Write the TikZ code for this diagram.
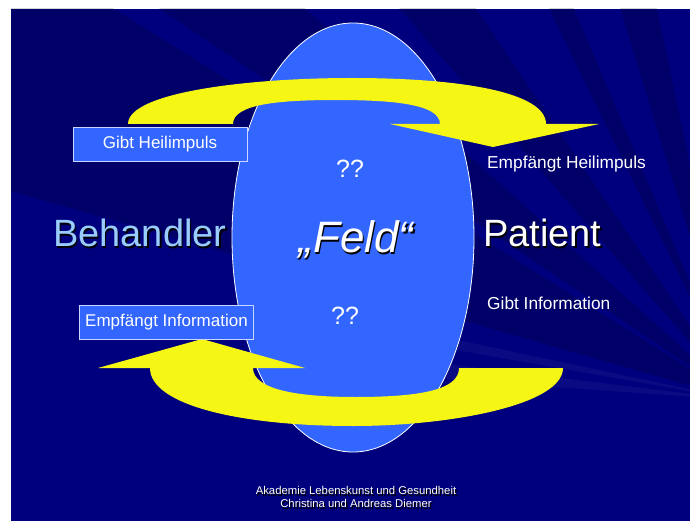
\documentclass[tikz,border=0pt]{standalone}
\usepackage{fontspec}
\setmainfont{Liberation Sans}
\usetikzlibrary{calc,shapes.geometric}
\definecolor{Navy}{HTML}{00007E}
\definecolor{FieldBlue}{HTML}{3366FF}
\definecolor{Sun}{HTML}{F6F614}
\definecolor{SkyText}{HTML}{99CCFF}
\definecolor{BoxLine}{HTML}{C9D6FF}
% text with a small drop shadow down-right
\newcommand{\shadowtext}[1]{\makebox[0pt][l]{\kern1.3pt\raisebox{-1.3pt}{\color{black}#1}}#1}

\begin{document}
\begin{tikzpicture}[
    x=1pt,y=-1pt,
    bigword/.style={font=\fontsize{38}{41}\selectfont,anchor=base west,inner sep=0pt},
    sidetext/.style={font=\fontsize{17.3}{20}\selectfont,text=white,anchor=base west,inner sep=0pt},
    infobox/.style={rectangle,draw=BoxLine,line width=0.8pt,fill=FieldBlue,text=white,
      font=\fontsize{17}{20}\selectfont,minimum width=174pt,minimum height=34pt,inner sep=0pt},
    fieldshape/.style={ellipse,draw=white,line width=0.8pt,fill=FieldBlue,
      minimum width=242pt,minimum height=429pt,inner sep=0pt},
    arrowband/.style={fill=Sun},
    ray/.style={fill=black,opacity=0.17},
    glow/.style={fill=white,opacity=0.04}
  ]
  \useasboundingbox (0,0) rectangle (690,521);
  % slide background with rays
  \fill[white] (0,0) rectangle (690,521);
  \fill[Navy] (11,9) rectangle (690,521);
  \begin{scope}
    \clip (11,9) rectangle (690,521);
    \coordinate (burst) at (740,400);
    \foreach \a/\b in {196/212,214/222,229/236,244/247,253/258}
      \fill[ray] (burst) -- ($(burst)+(\a:1100)$) -- ($(burst)+(\b:1100)$) -- cycle;
    \foreach \a/\b in {184/187,190/192,262/266}
      \fill[glow] (burst) -- ($(burst)+(\a:330)$) -- ($(burst)+(\b:330)$) -- cycle;
  \end{scope}

  % the field in the middle
  \node[fieldshape] (feld) at (353,237.5) {};

  % upper arrow: Behandler -> Patient
  \fill[arrowband] (128,124) .. controls (128,92) and (250,78) .. (352,78)
    .. controls (460,78) and (546,92) .. (546,124)
    -- (599,124) -- (493,147) -- (390,124) -- (440,124)
    .. controls (440,104) and (392,100) .. (336,100)
    .. controls (280,100) and (233,104) .. (233,124) -- cycle;

  % lower arrow: Patient -> Behandler
  \fill[arrowband] (563,368) .. controls (563,405) and (450,426) .. (353,426)
    .. controls (240,426) and (150,405) .. (150,368)
    -- (98,368) -- (202,339) -- (305,368) -- (253,368)
    .. controls (253,390) and (300,397) .. (355,397)
    .. controls (420,397) and (459,390) .. (459,368) -- cycle;

  % boxes on the left
  \node[infobox] (gibt) at (160,144) {Gibt Heilimpuls};
  \node[infobox] (empfang) at (166.5,322.5) {Empfängt Information};

  % texts
  \node[font=\fontsize{25}{28}\selectfont,text=white] (frageoben) at (350,168.5) {??};
  \node[font=\fontsize{25}{28}\selectfont,text=white] (frageunten) at (345,316) {??};
  \node[bigword,text=SkyText] (behandler) at (53,247) {\shadowtext{Behandler}};
  \node[bigword,text=white] (patient) at (483,247) {\shadowtext{Patient}};
  \node[bigword,text=white,anchor=base,font=\fontsize{44}{48}\selectfont\itshape] (feldtext) at (356,253) {\shadowtext{„Feld“}};
  \node[sidetext] (empfheil) at (487,169) {Empfängt Heilimpuls};
  \node[sidetext] (gibtinfo) at (487,309) {Gibt Information};

  % credit line
  \node[font=\fontsize{11.3}{13}\selectfont,text=white,align=center,inner sep=0pt] (credit) at (356,498)
    {\shadowtext{Akademie Lebenskunst und Gesundheit}\\\shadowtext{Christina und Andreas Diemer}};
\end{tikzpicture}
\end{document}
